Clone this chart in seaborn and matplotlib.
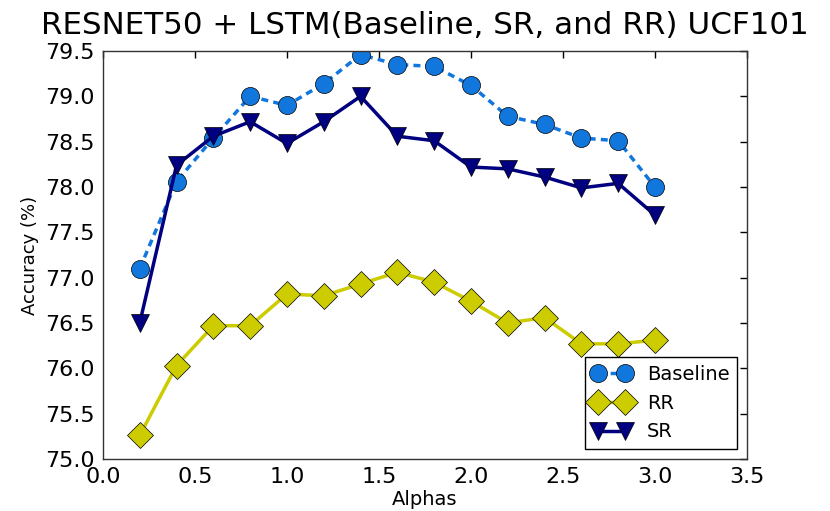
import numpy as np
import pandas as pd
import matplotlib
matplotlib.use("Agg")
import matplotlib.pyplot as plt
import seaborn as sns

alphas = [0.2, 0.4, 0.6, 0.8, 1.0, 1.2, 1.4, 1.6, 1.8, 2.0, 2.2, 2.4, 2.6, 2.8, 3.0]
baseline = [77.10, 78.06, 78.54, 79.00, 78.90, 79.14, 79.46, 79.35, 79.33,
            79.12, 78.78, 78.69, 78.54, 78.51, 78.00]
rr = [75.26, 76.03, 76.47, 76.47, 76.82, 76.80, 76.93, 77.06, 76.95,
      76.74, 76.50, 76.56, 76.27, 76.27, 76.31]
sr = [76.50, 78.24, 78.56, 78.72, 78.48, 78.72, 79.00, 78.56, 78.51,
      78.22, 78.20, 78.11, 77.99, 78.04, 77.69]

sns.set_style("white")
plt.rcParams['font.family'] = ['DejaVu Sans']
plt.rcParams['text.color'] = 'black'
plt.rcParams['axes.labelcolor'] = 'black'

fig = plt.figure(figsize=(8.3, 5.11), dpi=100)
ax = fig.add_axes([0.124, 0.1018, 0.776, 0.7984])

# Baseline (dotted)
sns.lineplot(x=alphas, y=baseline, ax=ax, color='#1177dd', marker='o',
             markersize=13, markeredgecolor='black', markeredgewidth=0.5,
             linewidth=2.5, label='Baseline')
ax.lines[-1].set_dashes([2, 1.5])

# RR
sns.lineplot(x=alphas, y=rr, ax=ax, color='#cccc00', marker='D',
             markersize=13, markeredgecolor='black', markeredgewidth=0.5,
             linewidth=2.5, label='RR')

# SR
sns.lineplot(x=alphas, y=sr, ax=ax, color='#000080', marker='v',
             markersize=13, markeredgecolor='black', markeredgewidth=0.5,
             linewidth=2.5, label='SR')

ax.set_xlim(0.0, 3.5)
ax.set_ylim(75.0, 79.5)
ax.set_xticks(np.arange(0, 3.51, 0.5))
ax.set_yticks(np.arange(75, 79.51, 0.5))
ax.xaxis.set_major_formatter(matplotlib.ticker.FormatStrFormatter('%.1f'))
ax.yaxis.set_major_formatter(matplotlib.ticker.FormatStrFormatter('%.1f'))
ax.tick_params(direction='in', top=True, right=True, length=5, width=1,
               labelsize=16, colors='black', pad=6)
for s in ax.spines.values():
    s.set_color('#333333')
    s.set_linewidth(1)

ax.set_title('RESNET50 + LSTM(Baseline, SR, and RR) UCF101', fontsize=22.3,
             pad=12, color='black')
ax.set_xlabel('Alphas', fontsize=14, labelpad=2)
ax.set_ylabel('Accuracy (%)', fontsize=13, labelpad=4)

leg = ax.legend(loc='lower right', numpoints=2, fontsize=14, fancybox=False,
                framealpha=1, edgecolor='black', borderaxespad=0.5)
leg.get_frame().set_linewidth(1)
for t in leg.get_texts():
    t.set_color('black')

fig.savefig('out.png', dpi=100)
